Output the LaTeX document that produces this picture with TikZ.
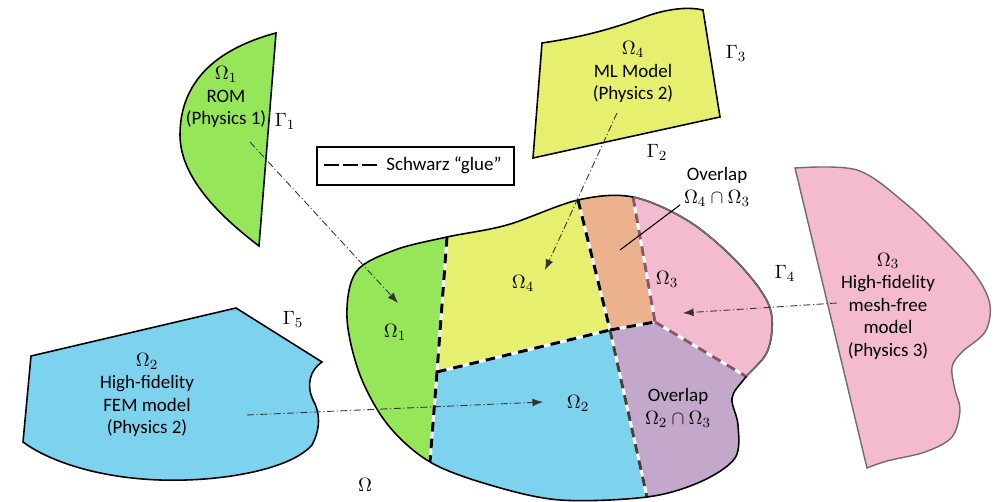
\documentclass[tikz,border=0pt]{standalone}
\usepackage{fontspec}
\setmainfont{Carlito}
\usepackage{tikz}
\usetikzlibrary{arrows.meta}
\definecolor{romGreen}{RGB}{150,230,90}
\definecolor{mlYellow}{RGB}{230,240,110}
\definecolor{femBlue}{RGB}{125,210,238}
\definecolor{mfPink}{RGB}{244,186,208}
\definecolor{ovOrange}{RGB}{236,178,142}
\definecolor{ovPurple}{RGB}{196,168,204}
\definecolor{glueMauve}{RGB}{140,85,105}
\definecolor{edgeGray}{RGB}{110,110,110}

% outline of the glued domain Omega
\newcommand{\blobpath}{plot[smooth cycle, tension=0.55] coordinates {
    (447,237) (507,225) (578,200) (633,197) (690,222) (740,265) (770,308)
    (768,350) (745,378) (732,398) (738,425) (735,458) (700,482) (647,497)
    (560,500) (490,485) (430,462) (388,425) (360,375) (347,318) (356,272)
    (395,250)}}

\tikzset{
    lbl/.style={align=center, font=\fontsize{10.8}{12.8}\selectfont, inner sep=0pt},
    glue/.style={line width=1.7pt, preaction={draw=white, solid, line width=1.7pt},
        draw=#1, dash pattern=on 5.5pt off 4pt},
    glue/.default=black,
    link/.style={line width=0.5pt, draw=black!80,
        dash pattern=on 4pt off 1.5pt on 0.6pt off 1.5pt,
        -{Latex[length=6pt,width=4.5pt]}},
    edge/.style={line width=0.9pt, draw=black}
}

\begin{document}
\begin{tikzpicture}[x=0.2mm,y=-0.2mm]
\useasboundingbox (0,0) rectangle (1000,502);

% =========================
% Separate subdomain models
% =========================
\filldraw[fill=romGreen, edge] (276,33) .. controls (212,50) and (180,85) .. (180,135)
    .. controls (180,180) and (225,220) .. (259,246) -- cycle;
\filldraw[fill=mlYellow, edge] (542,43) .. controls (590,36) and (620,26) .. (650,15)
    .. controls (672,8) and (690,7) .. (703,10) -- (720,117) -- (533,158) -- cycle;
\filldraw[fill=femBlue, edge] (31,356) -- (236,308) -- (322,362)
    .. controls (310,370) and (306,385) .. (313,400)
    .. controls (320,412) and (321,428) .. (312,445)
    .. controls (290,470) and (220,482) .. (160,480)
    .. controls (100,478) and (50,462) .. (23,442) -- cycle;
\filldraw[fill=mfPink, draw=edgeGray, line width=0.8pt]
    plot[smooth, tension=0.55] coordinates {(795,168) (857,170) (905,203) (947,243)
    (977,277) (990,305) (985,332) (962,352) (952,367) (955,390) (960,410)
    (952,437) (925,452) (887,461) (867,468)} -- cycle;

% =========================
% Glued domain Omega
% =========================
\coordinate (A) at (447,237);
\coordinate (B) at (437,372);
\coordinate (C) at (430,462);
\coordinate (D) at (578,200);
\coordinate (E) at (610,330);
\coordinate (F) at (633,197);
\coordinate (G) at (655,322);
\coordinate (H) at (747,377);
\coordinate (I) at (647,497);

\begin{scope}
    \clip \blobpath;
    \fill[romGreen] (300,170) -- (452,170) -- (A) -- (B) -- (C) -- (426,530) -- (300,530) -- cycle;
    \fill[mlYellow] (452,170) -- (573,170) -- (D) -- (E) -- (B) -- (A) -- cycle;
    \fill[ovOrange] (573,170) -- (630,170) -- (F) -- (G) -- (E) -- (D) -- cycle;
    \fill[mfPink] (630,170) -- (820,170) -- (820,420) -- (H) -- (G) -- (F) -- cycle;
    \fill[ovPurple] (G) -- (H) -- (820,420) -- (820,530) -- (654,530) -- (I) -- (E) -- cycle;
    \fill[femBlue] (B) -- (E) -- (I) -- (654,530) -- (426,530) -- (C) -- cycle;
\end{scope}

% Schwarz glue between the subdomains
\draw[glue] (A) -- (B);
\draw[glue] (B) -- (C);
\draw[glue] (B) -- (E);
\draw[glue] (D) -- (E);
\draw[glue=black!75] (E) -- (I);
\draw[glue] (E) -- (G);
\draw[glue=glueMauve] (F) -- (G);
\draw[glue=glueMauve] (G) -- (H);

\draw[edge] \blobpath;
\begin{scope}
    \clip (633,150) -- (820,150) -- (820,396) -- (H) -- (G) -- (F) -- cycle;
    \draw[edge, draw=edgeGray] \blobpath;
\end{scope}

% =========================
% Labels
% =========================
\node[lbl] (rom) at (226,97) {$\Omega_1$\\ROM\\(Physics 1)};
\node[lbl] (ml) at (633,72) {$\Omega_4$\\ML Model\\(Physics 2)};
\node[lbl] (fem) at (147,395) {$\Omega_2$\\High-fidelity\\FEM model\\(Physics 2)};
\node[lbl] (mf) at (888,306) {$\Omega_3$\\High-fidelity\\mesh-free\\model\\(Physics 3)};

\node[lbl] (g1) at (285,121) {$\Gamma_1$};
\node[lbl] (g2) at (657,152) {$\Gamma_2$};
\node[lbl] (g3) at (736,53) {$\Gamma_3$};
\node[lbl] (g4) at (785,273) {$\Gamma_4$};
\node[lbl] (g5) at (293,319) {$\Gamma_5$};

\node[lbl] (om1) at (395,332) {$\Omega_1$};
\node[lbl] (om4) at (523,283) {$\Omega_4$};
\node[lbl] (om2) at (578,403) {$\Omega_2$};
\node[lbl] (om3) at (667,279) {$\Omega_3$};
\node[lbl] (om) at (365,485) {$\Omega$};
\node[lbl] (ov43) at (717,187) {Overlap\\$\Omega_4\cap\Omega_3$};
\node[lbl] (ov23) at (678,408) {Overlap\\$\Omega_2\cap\Omega_3$};

% legend
\node[draw, line width=0.8pt, minimum width=39.4mm, minimum height=7.6mm, inner sep=0pt]
    (legend) at (415.5,166) {};
\node[lbl, anchor=west] (legtxt) at (386,165) {Schwarz “glue”};
\draw[line width=0.9pt, dash pattern=on 8.5pt off 2.3pt]
    ([xshift=1.6mm,yshift=0.2mm]legend.west) -- ([xshift=12.2mm,yshift=0.2mm]legend.west);

% =========================
% Couplings
% =========================
\coordinate (a1s) at (250,142);
\coordinate (a1e) at (398,303);
\coordinate (a4s) at (617,113);
\coordinate (a4e) at (545,270);
\coordinate (a3s) at (837,303);
\coordinate (a3e) at (683,313);
\coordinate (a2s) at (247,415);
\coordinate (a2e) at (543,402);
\draw[link] (a1s) -- (a1e);
\draw[link] (a4s) -- (a4e);
\draw[link] (a3s) -- (a3e);
\draw[link] (a2s) -- (a2e);

\coordinate (lead1) at (680,205);
\coordinate (lead2) at (620,250);
\draw[line width=0.6pt] (lead1) -- (lead2);

\end{tikzpicture}
\end{document}
